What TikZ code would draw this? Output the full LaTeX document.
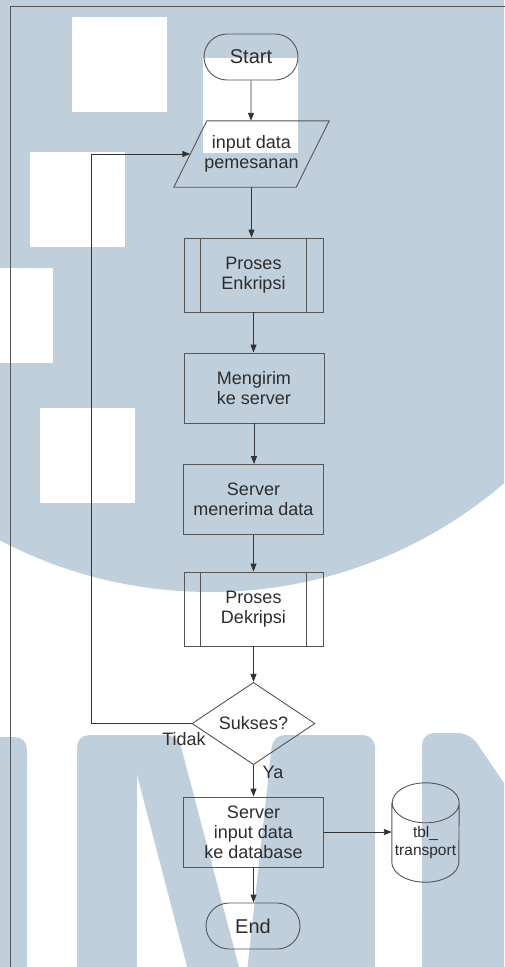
\documentclass[tikz,border=0pt]{standalone}
\usepackage{fontspec}
\setmainfont{Liberation Sans}
\usepackage{tikz}
\usetikzlibrary{shapes.geometric, shapes.misc, arrows.meta, calc}

\definecolor{umnblue}{RGB}{192,207,220}
\definecolor{linegray}{RGB}{85,85,85}
\definecolor{textgray}{RGB}{45,45,45}

\newcommand{\boxfont}{\fontsize{18}{20}\selectfont}
\newcommand{\termfont}{\fontsize{20}{22}\selectfont}
\newcommand{\dbfont}{\fontsize{15.5}{18}\selectfont}

\tikzset{
    shapeline/.style={draw=linegray, line width=0.9pt},
    flowarrow/.style={draw=black!80, line width=0.9pt, -{Triangle[length=8pt, width=6pt]}},
    terminal/.style={rounded rectangle, shapeline, minimum width=94pt, minimum height=46pt, inner sep=0pt, font=\termfont, text=textgray},
    io/.style={minimum width=122pt, minimum height=66pt, inner sep=0pt, align=center, font=\boxfont, text=textgray},
    process/.style={rectangle, shapeline, minimum width=140pt, minimum height=70pt, align=center, font=\boxfont, text=textgray},
    subproc/.style={process, minimum width=139pt, minimum height=74pt},
    decision/.style={diamond, shapeline, minimum width=123pt, minimum height=79pt, inner sep=0pt, font=\boxfont, text=textgray},
    dbnode/.style={minimum width=67pt, minimum height=79pt, inner sep=0pt, align=center, font=\dbfont, text=textgray},
    branch/.style={inner sep=0pt, font=\boxfont, text=textgray}
}

\begin{document}
\begin{tikzpicture}[x=1pt, y=-1pt]
    \useasboundingbox (0,0) rectangle (504,967);

    % logo in the background
    \begin{scope}
        \clip (0,0) rectangle (504,967);
        \fill[umnblue] (210,140) circle[radius=452pt];
        \foreach \x/\y in {72/17, 30/152, -42/268, 40/408, 203/58}
            \fill[white] (\x,\y) rectangle ++(95,95);
        % letters
        \fill[umnblue, rounded corners=12pt] (-30,990) -- (-30,737) -- (27,737) -- (27,990) -- cycle;
        \fill[umnblue, rounded corners=12pt] (77,990) -- (77,735) -- (178,735) -- (245,990) -- cycle;
        \fill[white] (137,775) -- (137,990) -- (193,990) -- cycle;
        \fill[umnblue, rounded corners=12pt] (245,990) -- (273,735) -- (375,735) -- (375,990) -- cycle;
        \fill[umnblue, rounded corners=12pt] (422,990) -- (422,733) -- (470,733) -- (540,836) -- (540,990) -- cycle;
    \end{scope}

    % frame
    \draw[linegray, line width=0.9pt] (10,980) -- (10,6) -- (520,6);

    % flow
    \node[terminal] (start) at (251,57) {Start};
    \node[io] (input) at (251.5,154) {input data\\pemesanan};
    \node[subproc] (enc) at (253.5,275) {Proses\\Enkripsi};
    \node[process] (send) at (254,388) {Mengirim\\ke server};
    \node[process] (recv) at (253.5,499.5) {Server\\menerima data};
    \node[subproc] (dec) at (253.5,609) {Proses\\Dekripsi};
    \node[decision] (cek) at (253.5,723.5) {Sukses?};
    \node[process] (save) at (253.5,832) {Server\\input data\\ke database};
    \node[dbnode] (tbl) at (425.5,842.5) {tbl\_\\transport};
    \node[terminal] (end) at (253,926) {End};

    \node[branch] (tidak) at (184,739) {Tidak};
    \node[branch] (ya) at (273,772) {Ya};

    % slanted input box
    \draw[shapeline] ([xshift=-16.5pt]input.south west) -- ([xshift=-16.5pt]input.south east)
        -- ([xshift=16.5pt]input.north east) -- ([xshift=16.5pt]input.north west) -- cycle;

    % side bars of the sub-processes
    \foreach \n in {enc,dec} {
        \draw[shapeline] ([xshift=17pt]\n.north west) -- ([xshift=17pt]\n.south west);
        \draw[shapeline] ([xshift=-17pt]\n.north east) -- ([xshift=-17pt]\n.south east);
    }

    % database
    \draw[shapeline] (tbl.north west) -- ([yshift=20pt]tbl.south west)
        arc[start angle=180, end angle=360, x radius=33.5pt, y radius=20pt]
        -- (tbl.north east)
        arc[start angle=0, end angle=360, x radius=33.5pt, y radius=20pt];

    % arrows
    \draw[flowarrow] (start) -- (start.south |- input.north);
    \draw[flowarrow] (input.south) -- (input.south |- enc.north);
    \draw[flowarrow] (enc.south) -- (enc.south |- send.north);
    \draw[flowarrow] (send.south) -- (send.south |- recv.north);
    \draw[flowarrow] (recv.south) -- (recv.south |- dec.north);
    \draw[flowarrow] (dec.south) -- (dec.south |- cek.north);
    \draw[flowarrow] (cek.south) -- (cek.south |- save.north);
    \draw[flowarrow] (save.south) -- (save.south |- end.north);
    \draw[flowarrow] (save.east) -- (save.east -| tbl.west);
    \coordinate (back) at (91,154);
    \draw[flowarrow] (cek.west) -| (back) -- (input.west);
\end{tikzpicture}
\end{document}
